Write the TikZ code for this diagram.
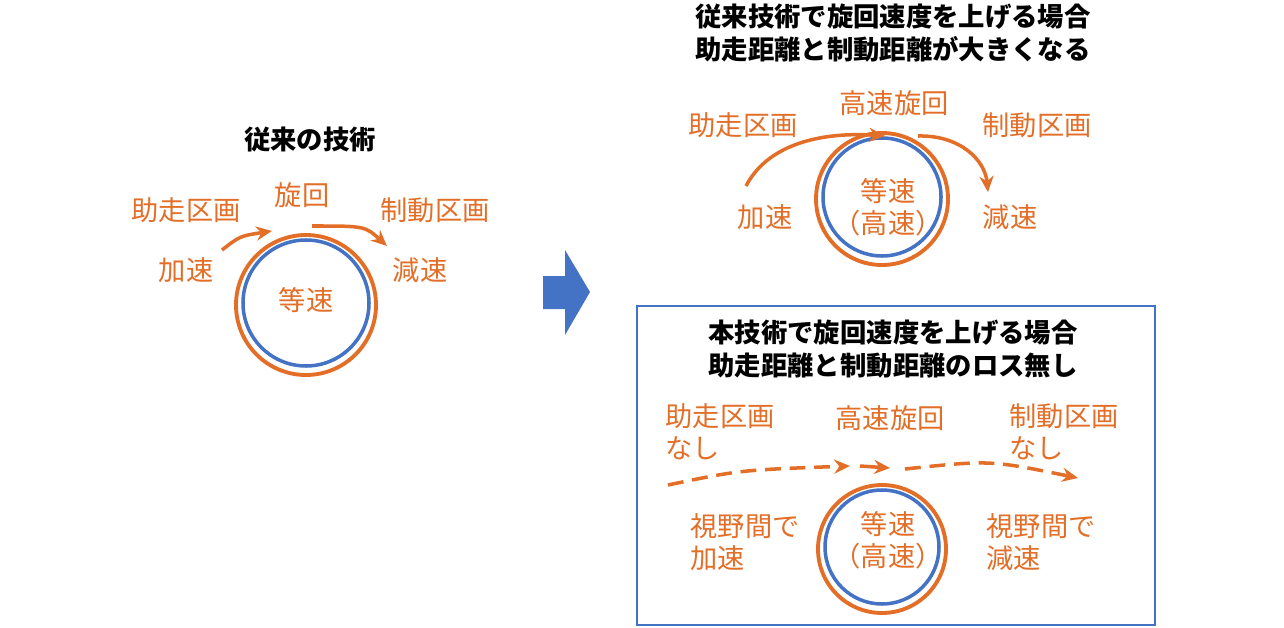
\documentclass[tikz,border=0pt]{standalone}
\usepackage{fontspec}
\setmainfont{Noto Sans CJK JP}
\usetikzlibrary{arrows.meta}
\definecolor{orng}{RGB}{227,110,40}
\definecolor{blu}{RGB}{68,114,196}

\begin{document}
\begin{tikzpicture}[x=0.02cm,y=-0.02cm,
  lbl/.style={text=orng,font=\fontsize{15.5}{18}\selectfont,align=left,inner sep=0pt},
  ttl/.style={font=\bfseries\fontsize{15}{19}\selectfont,align=center,inner sep=0pt},
  ring/.style={orng,line width=2.2pt},
  bring/.style={blu,line width=2pt},
  arr/.style={orng,line width=2pt,-{Stealth[length=9pt,width=8pt]}}]
\useasboundingbox (0,0) rectangle (1284,628);

% left: conventional
\node[ttl] (tl) at (310,140) {従来の技術};
\draw[ring] (306,305) circle (70);
\draw[bring] (306,303) circle (63);
\node[lbl] (cl) at (306,300) {等速};
\node[lbl] (run1) at (186,210) {助走区画};
\node[lbl] (acc1) at (186,270) {加速};
\node[lbl] (rot1) at (302,195) {旋回};
\node[lbl] (brk1) at (435,210) {制動区画};
\node[lbl] (dec1) at (420,270) {減速};
\coordinate (a1s) at (222,250);
\coordinate (a1e) at (272,231);
\coordinate (b1s) at (312,226);
\coordinate (b1e) at (387,246);
\draw[arr] (a1s) .. controls (240,236) .. (a1e);
\draw[arr] (b1s) .. controls (365,226) .. (b1e);

% big arrow
\fill[blu] (543,276) -- (565,276) -- (565,250) -- (590,292) -- (565,335) -- (565,309) -- (543,309) -- cycle;

% right top
\node[ttl] (tr) at (893,33) {従来技術で旋回速度を上げる場合\\助走距離と制動距離が大きくなる};
\draw[ring] (882,199) circle (66);
\draw[bring] (882,197) circle (59);
\node[lbl,align=center] (cr) at (888,207) {等速\\（高速）};
\node[lbl] (run2) at (743,125) {助走区画};
\node[lbl] (acc2) at (765,217) {加速};
\node[lbl] (rot2) at (894,103) {高速旋回};
\node[lbl] (brk2) at (1037,125) {制動区画};
\node[lbl] (dec2) at (1010,217) {減速};
\coordinate (a2s) at (746,186);
\coordinate (a2e) at (885,136);
\coordinate (b2s) at (918,136);
\coordinate (b2e) at (988,192);
\draw[arr] (a2s) .. controls (770,140) and (830,132) .. (a2e);
\draw[arr] (b2s) .. controls (960,135) and (985,160) .. (b2e);

% right bottom box
\draw[blu,line width=1pt] (637,306) rectangle (1155,625);
\node[ttl] (tb) at (893,349) {本技術で旋回速度を上げる場合\\助走距離と制動距離のロス無し};
\draw[ring] (882,549) circle (64);
\draw[bring] (882,547) circle (57);
\node[lbl,align=center] (cb) at (888,540) {等速\\（高速）};
\node[lbl] (run3) at (720,432) {助走区画\\なし};
\node[lbl] (rot3) at (890,418) {高速旋回};
\node[lbl] (brk3) at (1064,432) {制動区画\\なし};
\node[lbl] (acc3) at (745,542) {視野間で\\加速};
\node[lbl] (dec3) at (1041,542) {視野間で\\減速};
\coordinate (a3s) at (668,485);
\coordinate (a3e) at (850,466);
\coordinate (a3m) at (890,468);
\coordinate (b3s) at (905,469);
\coordinate (b3e) at (1078,478);
\draw[arr,dash pattern=on 9pt off 5pt] (a3s) .. controls (740,470) .. (a3e);
\draw[arr] (860,466) -- (a3m);
\draw[arr,dash pattern=on 9pt off 5pt] (b3s) .. controls (990,460) .. (b3e);
\end{tikzpicture}
\end{document}
